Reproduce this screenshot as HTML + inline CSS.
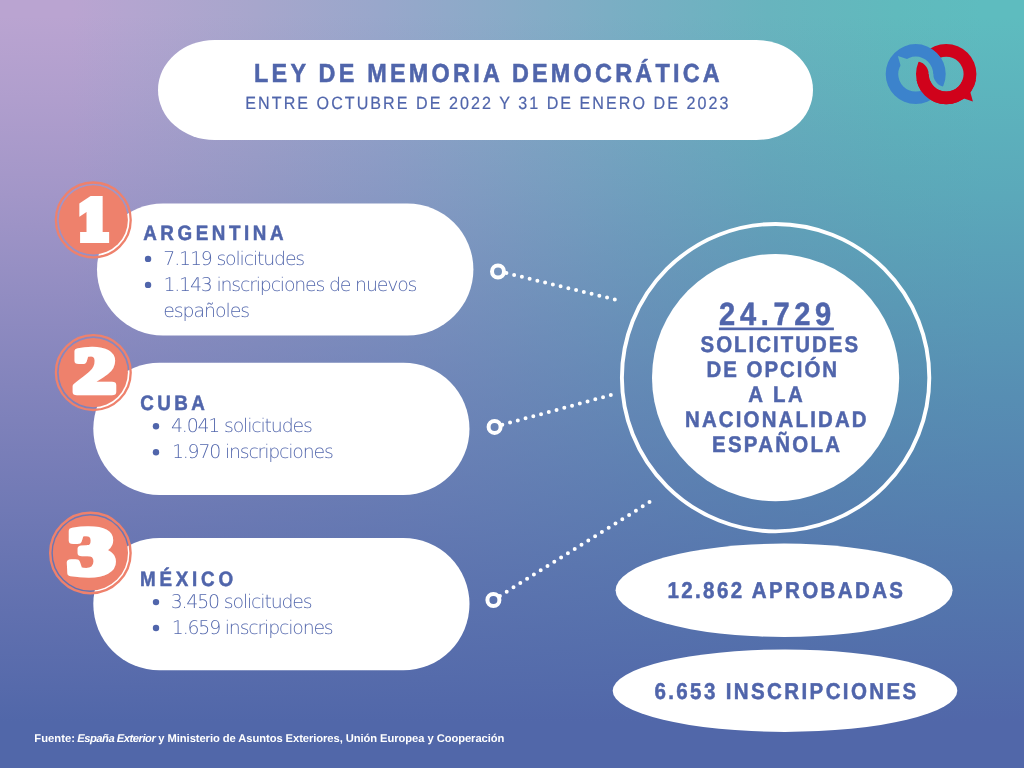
<!DOCTYPE html>
<html lang="es">
<head>
<meta charset="utf-8">
<title>Ley de Memoria Democrática</title>
<style>
html,body{margin:0;padding:0;}
body{width:1024px;height:768px;overflow:hidden;position:relative;
 font-family:"Liberation Sans",sans-serif;
 background:
  linear-gradient(to bottom, rgba(81,103,169,0) 2%, rgba(81,103,169,.095) 12.5%, rgba(81,103,169,.225) 25%, rgba(81,103,169,.52) 50%, rgba(81,103,169,.80) 75%, rgba(81,103,169,.93) 87.5%, rgba(81,103,169,1) 94%),
  linear-gradient(to right, #baa4d1 7%, #b4a5d0 12.5%, #a7a6cc 25%, #98a7cb 37.5%, #88abc7 50%, #77afc3 62.5%, #68b4be 75%, #60babd 87.5%, #5ebcbf 96%);
 background-size:1024px 768px;background-repeat:no-repeat;}
#shapes{position:absolute;left:0;top:0;width:1024px;height:768px;display:block;}
.t{position:absolute;display:block;white-space:pre;margin:0;padding:0;font-style:normal;text-rendering:geometricPrecision;}
</style>
</head>
<body>
<svg id="shapes" width="1024" height="768" viewBox="0 0 1024 768">
<defs>
<mask id="mB" maskUnits="userSpaceOnUse" x="870" y="30" width="120" height="90"><rect x="870" y="30" width="120" height="90" fill="#fff"/><path fill="#000" d="M916.5 74.1 A29.7 29.7 0 0 0 975.9 74.1 L959.1 74.1 A12.9 12.9 0 0 1 933.3 74.1 Z"/></mask>
<mask id="mR" maskUnits="userSpaceOnUse" x="870" y="30" width="120" height="90"><rect x="870" y="30" width="120" height="90" fill="#fff"/><path fill="#000" d="M886.2 74.1 A29.5 29.5 0 0 1 945.2 74.1 L928.6 74.1 A12.9 12.9 0 0 0 902.8 74.1 Z"/></mask>
<clipPath id="cLow"><rect x="870" y="80.1" width="120" height="60"/></clipPath>
</defs>
<rect x="158" y="40" width="655" height="100" rx="56.5" ry="50" fill="#fff"/>
<rect x="97" y="203.4" width="376.4" height="132" rx="66" ry="66" fill="#fff"/>
<rect x="93.3" y="362.7" width="376.2" height="132.2" rx="66.1" ry="66.1" fill="#fff"/>
<rect x="93.3" y="537.9" width="376.2" height="132.4" rx="66.2" ry="66.2" fill="#fff"/>
<circle cx="775.6" cy="377.65" r="153.7" fill="none" stroke="#fff" stroke-width="3.9"/>
<circle cx="775.6" cy="377.65" r="123.6" fill="#fff"/>
<ellipse cx="784.1" cy="590.3" rx="168.5" ry="46.7" fill="#fff"/>
<ellipse cx="785" cy="690.7" rx="172.3" ry="41.2" fill="#fff"/>
<rect x="718.9" y="327.5" width="115" height="2.7" fill="#5065ab"/>
<line x1="506.4" y1="273.1" x2="615.19" y2="299.59" stroke="#fff" stroke-width="4" stroke-linecap="round" stroke-dasharray="0 7.969"/>
<circle cx="498" cy="271.5" r="6" fill="none" stroke="#fff" stroke-width="4"/>
<line x1="502.3" y1="424.7" x2="611.19" y2="394.99" stroke="#fff" stroke-width="4" stroke-linecap="round" stroke-dasharray="0 8.033"/>
<circle cx="494.6" cy="426.9" r="6" fill="none" stroke="#fff" stroke-width="4"/>
<line x1="499.9" y1="595.9" x2="649.84" y2="501.89" stroke="#fff" stroke-width="4" stroke-linecap="round" stroke-dasharray="0 8.026"/>
<circle cx="493.4" cy="600" r="6" fill="none" stroke="#fff" stroke-width="4"/>
<circle cx="93.3" cy="219.9" r="37.4" fill="none" stroke="#ee816c" stroke-width="2.3"/>
<circle cx="93.3" cy="219.9" r="34.6" fill="#ee816c"/>
<circle cx="93.3" cy="372.6" r="37.4" fill="none" stroke="#ee816c" stroke-width="2.3"/>
<circle cx="93.3" cy="372.6" r="34.6" fill="#ee816c"/>
<circle cx="90.4" cy="553" r="40.2" fill="none" stroke="#ee816c" stroke-width="2.4"/>
<circle cx="90.4" cy="553" r="37.6" fill="#ee816c"/>
<circle cx="148.05" cy="258.9" r="3.2" fill="#5065ab"/>
<circle cx="148.05" cy="284.9" r="3.2" fill="#5065ab"/>
<circle cx="156" cy="426.3" r="3.2" fill="#5065ab"/>
<circle cx="156" cy="452.3" r="3.2" fill="#5065ab"/>
<circle cx="156" cy="602.1" r="3.2" fill="#5065ab"/>
<circle cx="156" cy="628" r="3.2" fill="#5065ab"/>
<g mask="url(#mR)"><path fill="#d0021b" fill-rule="evenodd" d="M916 74.1 A30.2 30.2 0 1 1 976.4 74.1 A30.2 30.2 0 1 1 916 74.1 Z M928.8 74.1 A17.4 17.4 0 1 0 963.6 74.1 A17.4 17.4 0 1 0 928.8 74.1 Z"/></g>
<mask id="mT" maskUnits="userSpaceOnUse" x="870" y="30" width="120" height="90"><rect x="870" y="30" width="120" height="90" fill="#fff"/><path fill="#000" d="M897.9 56 L907.77 59.18 L900.78 66.17 Z"/></mask>
<g mask="url(#mT)"><g mask="url(#mB)"><path fill="#3c83cc" fill-rule="evenodd" d="M885.7 74.1 A30 30 0 1 1 945.7 74.1 A30 30 0 1 1 885.7 74.1 Z M898.2 74.1 A17.5 17.5 0 1 0 933.2 74.1 A17.5 17.5 0 1 0 898.2 74.1 Z"/></g></g>
<g clip-path="url(#cLow)"><path fill="#d0021b" fill-rule="evenodd" d="M916 74.1 A30.2 30.2 0 1 1 976.4 74.1 A30.2 30.2 0 1 1 916 74.1 Z M928.8 74.1 A17.4 17.4 0 1 0 963.6 74.1 A17.4 17.4 0 1 0 928.8 74.1 Z"/></g>
<path fill="#d0021b" d="M972.9 101.5 L970.15 91.5 L963.18 98.35 Z"/>
<text transform="translate(77.15 238.90) scale(0.9087 1)" font-family="'DejaVu Serif',serif" font-weight="700" font-size="52.09" fill="#fff" stroke="#fff" stroke-width="8" stroke-linejoin="miter">1</text>
<text transform="translate(73.50 391.96) scale(1.3450 1)" font-family="'Liberation Serif',serif" font-weight="700" font-size="62.41" fill="#fff" stroke="#fff" stroke-width="6.5" stroke-linejoin="round">2</text>
<text transform="translate(67.63 573.64) scale(1.3884 1)" font-family="'Liberation Serif',serif" font-weight="700" font-size="67.59" fill="#fff" stroke="#fff" stroke-width="6.5" stroke-linejoin="round">3</text>
</svg>
<h1 class="t" id="title" style="left:254.00px;top:57.99px;font-size:26.0px;line-height:31.2px;font-weight:700;letter-spacing:3.594px;color:#5065ab;transform:translateX(0.04px) scaleX(0.9);transform-origin:0 0;-webkit-text-stroke:0.5px #5065ab;">LEY DE MEMORIA DEMOCRÁTICA</h1>
<p class="t" id="sub" style="left:245.00px;top:92.85px;font-size:17.7px;line-height:21.24px;font-weight:400;letter-spacing:2.238px;color:#5065ab;transform:translateX(0.34px) scaleX(0.91);transform-origin:0 0;-webkit-text-stroke:0.2px #5065ab;">ENTRE OCTUBRE DE 2022 Y 31 DE ENERO DE 2023</p>
<h2 class="t" id="h1" style="left:143.00px;top:221.22px;font-size:20.9px;line-height:25.08px;font-weight:700;letter-spacing:3.963px;color:#5065ab;transform:translateX(0.18px) scaleX(0.9);transform-origin:0 0;-webkit-text-stroke:0.5px #5065ab;">ARGENTINA</h2>
<h2 class="t" id="h2" style="left:140.00px;top:391.02px;font-size:20.9px;line-height:25.08px;font-weight:700;letter-spacing:3.807px;color:#5065ab;transform:translateX(0.17px) scaleX(0.9);transform-origin:0 0;-webkit-text-stroke:0.5px #5065ab;">CUBA</h2>
<h2 class="t" id="h3" style="left:140.00px;top:567.22px;font-size:20.9px;line-height:25.08px;font-weight:700;letter-spacing:4.181px;color:#5065ab;transform:translateX(0.04px) scaleX(0.9);transform-origin:0 0;-webkit-text-stroke:0.5px #5065ab;">MÉXICO</h2>
<p class="t" id="a1" style="left:163.34px;top:248.03px;font-size:18.9px;line-height:22.68px;font-weight:200;letter-spacing:-1.162px;color:#5468ad;font-family:'DejaVu Sans','Liberation Sans',sans-serif;">7.119 solicitudes</p>
<p class="t" id="a2" style="left:163.43px;top:273.50px;font-size:18.9px;line-height:22.68px;font-weight:200;letter-spacing:-1.179px;color:#5468ad;font-family:'DejaVu Sans','Liberation Sans',sans-serif;">1.143 inscripciones de nuevos</p>
<p class="t" id="a3" style="left:163.18px;top:299.73px;font-size:18.9px;line-height:22.68px;font-weight:200;letter-spacing:-1.048px;color:#5468ad;font-family:'DejaVu Sans','Liberation Sans',sans-serif;">españoles</p>
<p class="t" id="b1" style="left:170.95px;top:414.56px;font-size:18.9px;line-height:22.68px;font-weight:200;letter-spacing:-1.163px;color:#5468ad;font-family:'DejaVu Sans','Liberation Sans',sans-serif;">4.041 solicitudes</p>
<p class="t" id="b2" style="left:171.97px;top:440.62px;font-size:18.9px;line-height:22.68px;font-weight:200;letter-spacing:-1.188px;color:#5468ad;font-family:'DejaVu Sans','Liberation Sans',sans-serif;">1.970 inscripciones</p>
<p class="t" id="c1" style="left:170.67px;top:591.35px;font-size:18.9px;line-height:22.68px;font-weight:200;letter-spacing:-1.153px;color:#5468ad;font-family:'DejaVu Sans','Liberation Sans',sans-serif;">3.450 solicitudes</p>
<p class="t" id="c2" style="left:171.81px;top:616.62px;font-size:18.9px;line-height:22.68px;font-weight:200;letter-spacing:-1.181px;color:#5468ad;font-family:'DejaVu Sans','Liberation Sans',sans-serif;">1.659 inscripciones</p>
<p class="t" id="n0" style="left:719.00px;top:294.63px;font-size:32.3px;line-height:38.76px;font-weight:700;letter-spacing:5.158px;color:#5065ab;transform:translateX(0.07px) scaleX(0.9);transform-origin:0 0;-webkit-text-stroke:0.5px #5065ab;">24.729</p>
<p class="t" id="n1" style="left:700.00px;top:330.71px;font-size:22.7px;line-height:27.24px;font-weight:700;letter-spacing:2.252px;color:#5065ab;transform:translateX(0.50px) scaleX(0.9);transform-origin:0 0;-webkit-text-stroke:0.5px #5065ab;">SOLICITUDES</p>
<p class="t" id="n2" style="left:706.00px;top:355.51px;font-size:22.7px;line-height:27.24px;font-weight:700;letter-spacing:2.217px;color:#5065ab;transform:translateX(0.57px) scaleX(0.9);transform-origin:0 0;-webkit-text-stroke:0.5px #5065ab;">DE OPCIÓN</p>
<p class="t" id="n3" style="left:748.00px;top:381.11px;font-size:22.7px;line-height:27.24px;font-weight:700;letter-spacing:2.768px;color:#5065ab;transform:translateX(0.37px) scaleX(0.9);transform-origin:0 0;-webkit-text-stroke:0.5px #5065ab;">A LA</p>
<p class="t" id="n4" style="left:684.00px;top:405.51px;font-size:22.7px;line-height:27.24px;font-weight:700;letter-spacing:2.42px;color:#5065ab;transform:translateX(0.97px) scaleX(0.9);transform-origin:0 0;-webkit-text-stroke:0.5px #5065ab;">NACIONALIDAD</p>
<p class="t" id="n5" style="left:712.00px;top:431.11px;font-size:22.7px;line-height:27.24px;font-weight:700;letter-spacing:2.541px;color:#5065ab;transform:translateX(0.05px) scaleX(0.9);transform-origin:0 0;-webkit-text-stroke:0.5px #5065ab;">ESPAÑOLA</p>
<p class="t" id="e1" style="left:667.00px;top:577.02px;font-size:22.8px;line-height:27.36px;font-weight:700;letter-spacing:2.642px;color:#5065ab;transform:translateX(0.45px) scaleX(0.9);transform-origin:0 0;-webkit-text-stroke:0.5px #5065ab;">12.862 APROBADAS</p>
<p class="t" id="e2" style="left:654.00px;top:678.02px;font-size:22.8px;line-height:27.36px;font-weight:700;letter-spacing:2.643px;color:#5065ab;transform:translateX(0.46px) scaleX(0.9);transform-origin:0 0;-webkit-text-stroke:0.5px #5065ab;">6.653 INSCRIPCIONES</p>
<span class="t" id="f1" style="left:34.31px;top:733.24px;font-size:11.2px;line-height:13.44px;font-weight:700;letter-spacing:0.043px;color:#ffffff;">Fuente:</span>
<em class="t" id="f2" style="left:77.22px;top:733.24px;font-size:11.2px;line-height:13.44px;font-weight:700;letter-spacing:-0.474px;color:#ffffff;font-style:italic;">España Exterior</em>
<span class="t" id="f3" style="left:158.36px;top:733.24px;font-size:11.2px;line-height:13.44px;font-weight:700;letter-spacing:-0.068px;color:#ffffff;">y Ministerio de Asuntos Exteriores, Unión Europea y Cooperación</span>
</body>
</html>
